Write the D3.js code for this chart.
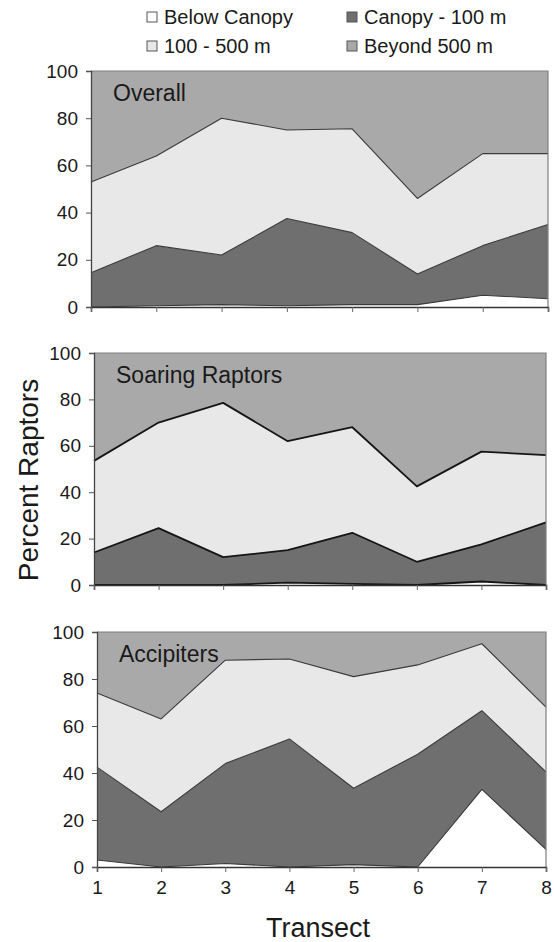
<!DOCTYPE html>
<html>
<head>
<meta charset="utf-8">
<script src="https://cdn.jsdelivr.net/npm/d3@7/dist/d3.min.js"></script>
<style>
  html, body { margin: 0; padding: 0; background: #fff; }
  svg { display: block; font-family: "Liberation Sans", Arial, Helvetica, sans-serif; }
</style>
</head>
<body>
<svg id="chart" width="554" height="942"></svg>
<script>
// ---------------- DATA ----------------
const transects = [1, 2, 3, 4, 5, 6, 7, 8];
const seriesNames = ["Below Canopy", "Canopy - 100 m", "100 - 500 m", "Beyond 500 m"];
const panelTitles = ["Overall", "Soaring Raptors", "Accipiters"];
const yTickValues = [0, 20, 40, 60, 80, 100];

// Overall (percent per height class)
const overallBelow   = [0, 0.5, 1, 0.5, 1, 1, 5, 3.5];
const overallCanopy  = [14.5, 25.5, 21, 37, 30.5, 13, 21, 31.5];
const overallMid     = [38.5, 38, 58, 37.5, 44, 32, 39, 30];
const overallBeyond  = [47, 36, 20, 25, 24.5, 54, 35, 35];

// Soaring raptors
const soaringBelow   = [0, 0, 0, 1, 0.5, 0, 1.5, 0];
const soaringCanopy  = [14, 24.5, 12, 14, 22, 10, 16, 27];
const soaringMid     = [39.5, 45.5, 66.5, 47, 45.5, 32.5, 40, 29];
const soaringBeyond  = [46.5, 30, 21.5, 38, 32, 57.5, 42.5, 44];

// Accipiters
const accipBelow     = [3, 0, 1.5, 0, 1, 0, 33, 7.5];
const accipCanopy    = [39.5, 23.5, 42.5, 54.5, 32.5, 48, 33.5, 33];
const accipMid       = [31.5, 39.5, 44, 34, 47.5, 38, 28.5, 27.5];
const accipBeyond    = [26, 37, 12, 11.5, 19, 14, 5, 32];

// ---------------- STYLE / LAYOUT ----------------
const fills = ["#ffffff", "#6f6f6f", "#e8e8e8", "#a9a9a9"];
const panels = [
  { title: panelTitles[0], data: [overallBelow, overallCanopy, overallMid, overallBeyond],
    x0: 91, x1: 548, top: 71, bottom: 307, line: "#3a3a3a", lw: 1.1, showX: false },
  { title: panelTitles[1], data: [soaringBelow, soaringCanopy, soaringMid, soaringBeyond],
    x0: 94, x1: 546, top: 353, bottom: 585, line: "#151515", lw: 1.8, showX: false },
  { title: panelTitles[2], data: [accipBelow, accipCanopy, accipMid, accipBeyond],
    x0: 97, x1: 546, top: 632, bottom: 867, line: "#3a3a3a", lw: 1.1, showX: true }
];

const svg = d3.select("#chart");

panels.forEach(p => {
  const rows = transects.map((t, i) => {
    const r = { t };
    seriesNames.forEach((s, k) => r[s] = p.data[k][i]);
    return r;
  });
  const stacked = d3.stack().keys(seriesNames)(rows);

  const x = d3.scaleLinear().domain([1, 8]).range([p.x0, p.x1]);
  const y = d3.scaleLinear().domain([0, 100]).range([p.bottom, p.top]);

  const g = svg.append("g");

  const area = d3.area()
    .x(d => x(d.data.t))
    .y0(d => y(d[0]))
    .y1(d => y(Math.min(100, d[1])));

  g.selectAll("path.layer")
    .data(stacked)
    .join("path")
    .attr("class", "layer")
    .attr("d", area)
    .attr("fill", (d, i) => fills[i]);

  const topLine = d3.line()
    .x(d => x(d.data.t))
    .y(d => y(Math.min(100, d[1])));

  g.selectAll("path.edge")
    .data(stacked.slice(0, 3))
    .join("path")
    .attr("class", "edge")
    .attr("d", topLine)
    .attr("fill", "none")
    .attr("stroke", p.line)
    .attr("stroke-width", p.lw)
    .attr("stroke-linejoin", "round");

  // plot frame (top & right)
  g.append("path")
    .attr("d", `M${p.x0},${p.top}H${p.x1}V${p.bottom}`)
    .attr("fill", "none")
    .attr("stroke", "#808080")
    .attr("stroke-width", 1.2);

  // y axis
  const ya = g.append("g")
    .attr("transform", `translate(${p.x0},0)`)
    .call(d3.axisLeft(y).tickValues(yTickValues).tickSize(5).tickPadding(8).tickFormat(d3.format("d")));
  ya.select(".domain").attr("stroke", "#444").attr("stroke-width", 1.3);
  ya.selectAll(".tick line").attr("stroke", "#555");
  ya.selectAll(".tick text")
    .attr("font-size", 19).attr("fill", "#1a1a1a")
    .attr("font-family", "'Liberation Sans', Arial, sans-serif");

  // x axis
  const xa = g.append("g")
    .attr("transform", `translate(0,${p.bottom})`)
    .call(d3.axisBottom(x).tickValues(transects).tickSize(5).tickPadding(9)
      .tickFormat(p.showX ? d3.format("d") : () => ""));
  xa.select(".domain").attr("stroke", "#333").attr("stroke-width", 1.6);
  xa.selectAll(".tick line").attr("stroke", "#666");
  xa.selectAll(".tick text")
    .attr("font-size", 19).attr("fill", "#1a1a1a")
    .attr("font-family", "'Liberation Sans', Arial, sans-serif");

  // panel title
  g.append("text")
    .attr("x", p.x0 + 22)
    .attr("y", p.top + 30)
    .attr("font-size", 23)
    .attr("fill", "#1a1a1a")
    .text(p.title);
});

// y axis title
svg.append("text")
  .attr("transform", "translate(38,480) rotate(-90)")
  .attr("text-anchor", "middle")
  .attr("font-size", 28)
  .attr("fill", "#1a1a1a")
  .text("Percent Raptors");

// x axis title
svg.append("text")
  .attr("x", 318)
  .attr("y", 937)
  .attr("text-anchor", "middle")
  .attr("font-size", 27)
  .attr("fill", "#1a1a1a")
  .text("Transect");

// legend
const legendPos = [
  { x: 147, y: 17 }, { x: 347, y: 17 },
  { x: 147, y: 46 }, { x: 347, y: 46 }
];
const lg = svg.append("g");
seriesNames.forEach((s, i) => {
  const pos = legendPos[i];
  lg.append("rect")
    .attr("x", pos.x).attr("y", pos.y - 5)
    .attr("width", 10).attr("height", 10)
    .attr("fill", fills[i])
    .attr("stroke", "#555").attr("stroke-width", 1);
  lg.append("text")
    .attr("x", pos.x + 17).attr("y", pos.y)
    .attr("dy", "0.36em")
    .attr("font-size", 20)
    .attr("fill", "#1a1a1a")
    .text(s);
});
</script>
</body>
</html>
